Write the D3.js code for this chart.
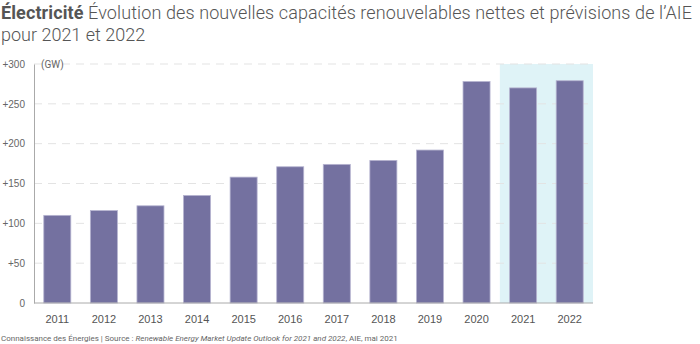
<!DOCTYPE html>
<html>
<head>
<meta charset="utf-8">
<script src="https://cdn.jsdelivr.net/npm/d3@7"></script>
<style>
  body { margin: 0; background: #fff; }
  svg { font-family: Roboto, "Noto Sans", sans-serif; }
</style>
</head>
<body>
<svg id="chart" width="700" height="344"></svg>
<script>
const years = ['2011', '2012', '2013', '2014', '2015', '2016', '2017', '2018', '2019', '2020', '2021', '2022'];
const capacity = [110, 116, 122, 135, 158, 171, 174, 179, 192, 278, 270, 279];
const forecastYears = ['2021', '2022'];
const yTicks = [0, 50, 100, 150, 200, 250, 300];

const margin = { top: 64, right: 107, bottom: 41, left: 34 };
const width = 700, height = 344;

var svg = d3.select('#chart');

var x = d3.scaleBand()
  .domain(years)
  .range([margin.left, width - margin.right])
  .paddingInner(0.42)
  .paddingOuter(0.21);

var y = d3.scaleLinear()
  .domain([0, 300])
  .range([height - margin.bottom, margin.top]);

// forecast background
const step = x.step();
const fStart = x(forecastYears[0]) - x.paddingInner() * step / 2;
svg.append('rect')
  .attr('x', fStart)
  .attr('y', y(300))
  .attr('width', width - margin.right - fStart)
  .attr('height', y(0) - y(300))
  .attr('fill', '#dff3f7');

// grid
svg.append('g')
  .selectAll('line')
  .data(yTicks.filter(d => d > 0))
  .join('line')
  .attr('x1', margin.left)
  .attr('x2', width - margin.right)
  .attr('y1', d => y(d))
  .attr('y2', d => y(d))
  .attr('stroke', '#e3e3e3')
  .attr('stroke-dasharray', '8,6');

// y axis
var yAxis = d3.axisLeft(y)
  .tickValues(yTicks)
  .tickSize(0)
  .tickPadding(9)
  .tickFormat(d => d === 0 ? '0' : '+' + d);
var yg = svg.append('g')
  .attr('transform', `translate(${margin.left},0)`)
  .call(yAxis);
yg.select('.domain').attr('stroke', '#aaa');
yg.selectAll('text').attr('fill', '#666').attr('font-size', 10);

// bars
svg.append('g')
  .selectAll('rect')
  .data(years.map((yr, i) => ({ yr, v: capacity[i] })))
  .join('rect')
  .attr('x', d => x(d.yr))
  .attr('y', d => y(d.v))
  .attr('width', x.bandwidth())
  .attr('height', d => y(0) - y(d.v))
  .attr('fill', '#7471a0')
  .attr('stroke', '#b6b4d0')
  .attr('stroke-width', 0.8);

// x axis
var xAxis = d3.axisBottom(x).tickSize(0).tickPadding(12);
var xg = svg.append('g')
  .attr('transform', `translate(0,${y(0)})`)
  .call(xAxis);
xg.select('.domain').attr('stroke', '#aaa').attr('d', `M${margin.left},0H${width - margin.right}`);
xg.selectAll('text').attr('fill', '#555').attr('font-size', 11);

// unit label
svg.append('text')
  .attr('x', margin.left + 7)
  .attr('y', y(300) + 4)
  .attr('fill', '#666')
  .attr('font-size', 10)
  .text('(GW)');

// title
var title = svg.append('text')
  .attr('x', 1)
  .attr('y', 19)
  .attr('fill', '#555')
  .attr('font-size', 18)
  .attr('textLength', 691)
  .attr('lengthAdjust', 'spacing');
title.append('tspan').attr('font-weight', 'bold').text('Électricité');
title.append('tspan').attr('font-weight', 300).text(' Évolution des nouvelles capacités renouvelables nettes et prévisions de l’AIE');
svg.append('text')
  .attr('x', 1)
  .attr('y', 41)
  .attr('fill', '#555')
  .attr('font-size', 18)
  .attr('font-weight', 300)
  .text('pour 2021 et 2022');

// source
var src = svg.append('text')
  .attr('x', 1)
  .attr('y', 341)
  .attr('fill', '#666')
  .attr('font-size', 8);
src.append('tspan').text('Connaissance des Énergies | Source : ');
src.append('tspan').attr('font-style', 'italic').text('Renewable Energy Market Update Outlook for 2021 and 2022');
src.append('tspan').text(', AIE, mai 2021');
</script>
</body>
</html>
